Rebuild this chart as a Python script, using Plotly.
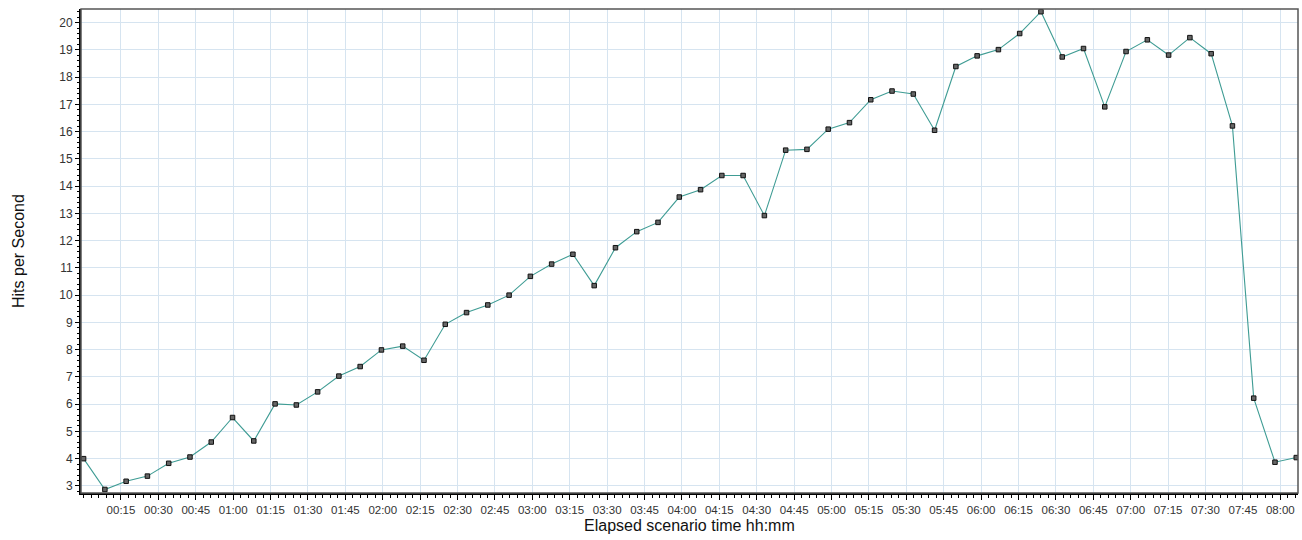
import plotly.graph_objects as go

# Hits per second, sampled every 512 s (8 min 32 s)
hits = [4.00, 2.87, 3.17, 3.36, 3.83, 4.06, 4.61, 5.51, 4.65, 6.01,
        5.97, 6.45, 7.03, 7.38, 7.99, 8.13, 7.61, 8.93, 9.36, 9.64,
        10.00, 10.69, 11.14, 11.50, 10.35, 11.74, 12.33, 12.67, 13.60, 13.87,
        14.39, 14.39, 12.92, 15.32, 15.35, 16.09, 16.33, 17.17, 17.49, 17.38,
        16.05, 18.39, 18.78, 19.01, 19.60, 20.40, 18.74, 19.05, 16.91, 18.94,
        19.37, 18.81, 19.45, 18.86, 16.21, 6.22, 3.87, 4.04]
sample_interval_s = 512
elapsed_min = [i * sample_interval_s / 60 for i in range(len(hits))]

tick_minutes = list(range(15, 481, 15))
tick_labels = [f"{m // 60:02d}:{m % 60:02d}" for m in tick_minutes]
y_ticks = list(range(3, 21))

fig = go.Figure()
fig.add_trace(go.Scatter(
    x=elapsed_min, y=hits, mode="lines+markers",
    line=dict(color="#3f9c94", width=1.1),
    marker=dict(symbol="square", size=4.5, color="#666666",
                line=dict(color="#111111", width=1)),
    showlegend=False,
))

fig.update_layout(
    width=1302, height=540,
    margin=dict(l=81, r=4, t=9, b=47),
    paper_bgcolor="white", plot_bgcolor="white",
    font=dict(family="Liberation Sans, Arial, sans-serif", color="#222222"),
    xaxis=dict(
        range=[-1.04, 487.1], tickmode="array", tickvals=tick_minutes,
        ticktext=tick_labels, tickfont=dict(size=11.5, color="#333333"),
        showgrid=True, gridcolor="#d6e4f0", gridwidth=1,
        showline=True, linecolor="black", linewidth=2,
        ticks="outside", ticklen=5, tickcolor="black", tickwidth=1,
        minor=dict(dtick=3, tick0=0, ticks="outside", ticklen=3,
                   tickcolor="black", showgrid=False),
        zeroline=False, automargin=False,
    ),
    yaxis=dict(
        range=[2.74, 20.5], tickmode="array", tickvals=y_ticks,
        tickfont=dict(size=12, color="#333333"),
        showgrid=True, gridcolor="#d6e4f0", gridwidth=1,
        showline=True, linecolor="black", linewidth=2,
        ticks="outside", ticklen=4, tickcolor="black", tickwidth=1,
        minor=dict(dtick=0.2, tick0=0, ticks="outside", ticklen=2,
                   tickcolor="black", showgrid=False),
        zeroline=False, automargin=False,
    ),
    annotations=[
        dict(text="Elapsed scenario time hh:mm", xref="paper", yref="paper",
             x=0.5, y=0, yshift=-32, xanchor="center", yanchor="middle",
             showarrow=False, font=dict(size=16, color="#111111")),
        dict(text="Hits per Second", xref="paper", yref="paper",
             x=0, y=0.5, xshift=-63, xanchor="center", yanchor="middle",
             textangle=-90, showarrow=False, font=dict(size=16, color="#111111")),
    ],
    shapes=[dict(type="rect", xref="paper", yref="paper", x0=0, y0=0, x1=1, y1=1,
                 line=dict(color="#555555", width=1.5), layer="above")],
)

fig.write_html(
    "out.html",
    config={"displayModeBar": False},
    post_script="document.body.style.margin='0';document.body.style.overflow='hidden';",
)
